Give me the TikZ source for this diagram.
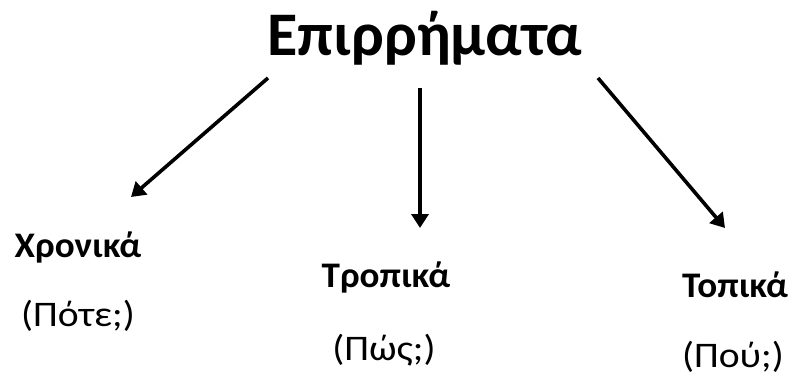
\documentclass[tikz,border=0pt]{standalone}
\usepackage{fontspec}
\setmainfont{Carlito}
\usetikzlibrary{arrows.meta}

\begin{document}
\begin{tikzpicture}[x=1pt, y=-1pt,
        every node/.style={inner sep=0pt, anchor=base},
        kind/.style={font=\fontsize{36}{40}\selectfont\bfseries, xscale=1.03, transform shape},
        ask/.style={font=\fontsize{36}{40}\selectfont, xscale=1.1, transform shape},
        branch/.style={line width=3.6pt, -{Triangle[length=14pt, width=17pt]}}]
        \useasboundingbox (0,0) rectangle (794,375);

        \node[font=\fontsize{62}{70}\selectfont\bfseries] (title) at (425,55) {Επιρρήματα};

        \node[kind] (xron) at (78,257) {Χρονικά};
        \node[ask] (pote) at (78,326) {(Πότε;)};
        \node[kind] (trop) at (386,287) {Τροπικά};
        \node[ask] (pos) at (384,360) {(Πώς;)};
        \node[kind] (top) at (735,297) {Τοπικά};
        \node[ask] (pou) at (733,367) {(Πού;)};

        \coordinate (s1) at (268,78);
        \coordinate (e1) at (131,197);
        \coordinate (s2) at (420,88);
        \coordinate (e2) at (420,228);
        \coordinate (s3) at (598,78);
        \coordinate (e3) at (725,228);

        \draw[branch] (s1) -- (e1);
        \draw[branch] (s2) -- (e2);
        \draw[branch] (s3) -- (e3);
    \end{tikzpicture}
\end{document}
